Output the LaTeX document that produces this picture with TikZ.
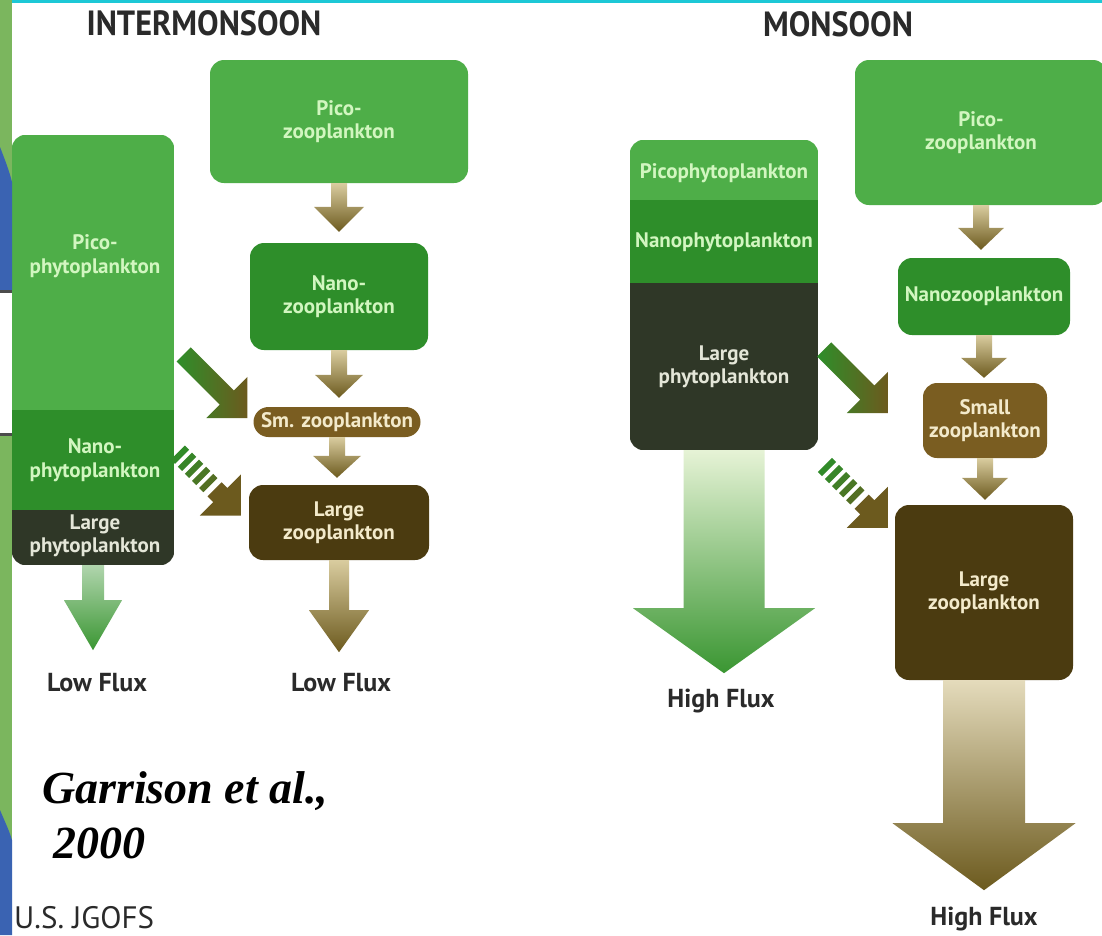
\documentclass[tikz,border=0pt]{standalone}
\usepackage{fontspec}
\setmainfont{PT Sans}
\newfontfamily\serifbi{Liberation Serif}
\usetikzlibrary{calc}
\definecolor{lgreen}{HTML}{4EAE48}
\definecolor{mgreen}{HTML}{2E8E2A}
\definecolor{dphy}{HTML}{2F3727}
\definecolor{sbrown}{HTML}{7A5D21}
\definecolor{dbrown}{HTML}{4B3B10}
\definecolor{txtg}{HTML}{D2F6C0}
\definecolor{txtd}{HTML}{E4E6D8}
\definecolor{txtb}{HTML}{F3EACB}
\definecolor{arrolive}{HTML}{6C5A1E}
\definecolor{arrtan}{HTML}{D9CC9F}
\definecolor{arrgreen}{HTML}{3A9632}
\definecolor{arrlight}{HTML}{E6F3D6}
\definecolor{stripgreen}{HTML}{7BB65E}
\definecolor{stripblue}{HTML}{3A63B2}
\definecolor{cyanline}{HTML}{1CC8D6}
\definecolor{inktxt}{HTML}{2A2A2A}

\newcommand\varrow[6]{%
  \path[#6] let \p1=(#1), \p2=(#2) in
    (\x1-#3pt,\y1) -- (\x1+#3pt,\y1) -- (\x1+#3pt,\y2+#5pt) -- (\x1+#4pt,\y2+#5pt)
    -- (\x1,\y2) -- (\x1-#4pt,\y2+#5pt) -- (\x1-#3pt,\y2+#5pt) -- cycle;}

\newcommand\diagsolid[1]{%
  \begin{scope}[shift={(#1)}, rotate=-45]
    \shade[left color=mgreen, right color=arrolive]
      (-90,-10) -- (-29,-10) -- (-29,-29) -- (0,0) -- (-29,29) -- (-29,10) -- (-90,10) -- cycle;
  \end{scope}}

\newcommand\diagdashed[1]{%
  \begin{scope}[shift={(#1)}, rotate=-45]
    \fill[arrolive] (-37,-10) -- (-29,-10) -- (-29,-29) -- (0,0) -- (-29,29) -- (-29,10) -- (-37,10) -- cycle;
    \foreach \a/\c in {-89/95,-79/85,-69/70,-59/55,-49/40}
      \fill[mgreen!\c!arrolive] (\a,-10) rectangle ++(6,20);
  \end{scope}}

\begin{document}
\begin{tikzpicture}[x=1pt,y=-1pt,
  lbl/.style={font=\bfseries\fontsize{21}{23.5}\selectfont, align=center, inner sep=0pt},
  box/.style={lbl, rounded corners=14pt},
  flux/.style={font=\bfseries\fontsize{26}{30}\selectfont, text=inktxt, anchor=base, inner sep=0pt},
  title/.style={font=\bfseries\fontsize{35}{40}\selectfont, text=inktxt, anchor=base, inner sep=0pt},
  zarrow/.style={top color=arrtan, bottom color=arrolive},
  garrow/.style={top color=arrlight, bottom color=arrgreen},
  barrow/.style={top color=arrtan!70!white, bottom color=arrolive}]
\useasboundingbox (0,0) rectangle (1102,935);
\fill[white] (0,0) rectangle (1102,935);

% titles
\node[title] (t1) at (204,35) {\scalebox{0.92}[1]{INTERMONSOON}};
\node[title] (t2) at (838,36) {\scalebox{0.92}[1]{MONSOON}};

% ---------- left panel ----------
\node[minimum width=162pt, minimum height=430pt, inner sep=0pt] (lphy) at (93,350) {};
\begin{scope}
  \clip[rounded corners=14pt] (lphy.north west) rectangle (lphy.south east);
  \fill[lgreen] (lphy.north west) rectangle (174,410);
  \fill[mgreen] (12,410) rectangle (174,510);
  \fill[dphy] (12,510) rectangle (lphy.south east);
\end{scope}
\node[lbl, text=txtg] (lpico) at (95,256) {Pico-\\phytoplankton};
\node[lbl, text=txtg] (lnano) at (95,460) {Nano-\\phytoplankton};
\node[lbl, text=txtd] (llarge) at (95,536) {Large\\phytoplankton};

\node[box, fill=lgreen, text=txtg, minimum width=258pt, minimum height=123pt] (lpz) at (339,121.5) {Pico-\\zooplankton};
\node[box, fill=mgreen, text=txtg, minimum width=178pt, minimum height=107pt] (lnz) at (339,296.5) {Nano-\\zooplankton};
\node[box, fill=sbrown, text=txtb, rounded corners=15pt, minimum width=167pt, minimum height=30pt] (lsz) at (337,422) {Sm. zooplankton};
\node[box, fill=dbrown, text=txtb, minimum width=180pt, minimum height=75pt] (llz) at (339,522.5) {Large\\zooplankton};

\varrow{lpz.south}{$(lnz.north)+(0,-11)$}{8}{25}{25}{zarrow}
\varrow{lnz.south}{$(lsz.north)+(0,-9)$}{8}{24}{23}{zarrow}
\varrow{lsz.south}{$(llz.north)+(0,-7)$}{8}{24}{22}{zarrow}
\varrow{llz.south}{$(llz.south)+(0,92)$}{10}{30}{42}{zarrow}
\varrow{lphy.south}{$(lphy.south)+(0,85)$}{11}{29}{50}{top color=arrgreen!40!white, bottom color=arrgreen}

\coordinate (ldt1) at ($(lsz.west)+(-6,-4)$);
\coordinate (ldt2) at ($(llz.west)+(-8,-7)$);
\diagsolid{ldt1}
\diagdashed{ldt2}

\node[flux] (lf1) at (97,691) {Low Flux};
\node[flux] (lf2) at (341,691) {Low Flux};

% ---------- right panel ----------
\node[minimum width=188pt, minimum height=310pt, inner sep=0pt] (rphy) at (724,295) {};
\begin{scope}
  \clip[rounded corners=14pt] (rphy.north west) rectangle (rphy.south east);
  \fill[lgreen] (rphy.north west) rectangle (818,200);
  \fill[mgreen] (630,200) rectangle (818,283);
  \fill[dphy] (630,283) rectangle (rphy.south east);
\end{scope}
\node[lbl, text=txtg] (rpico) at (724,173) {Picophytoplankton};
\node[lbl, text=txtg] (rnano) at (724,242) {Nanophytoplankton};
\node[lbl, text=txtd] (rlarge) at (724,367) {Large\\phytoplankton};

\node[box, fill=lgreen, text=txtg, minimum width=252pt, minimum height=145pt] (rpz) at (981,132.5) {Pico-\\zooplankton};
\node[box, fill=mgreen, text=txtg, minimum width=172pt, minimum height=77pt] (rnz) at (984,296.5) {Nanozooplankton};
\node[box, fill=sbrown, text=txtb, minimum width=124pt, minimum height=75pt] (rsz) at (985,420.5) {Small\\zooplankton};
\node[box, fill=dbrown, text=txtb, minimum width=178pt, minimum height=175pt] (rlz) at (984,592.5) {Large\\zooplankton};

\varrow{rpz.south}{$(rnz.north)+(0,-8)$}{8}{23}{22}{zarrow}
\varrow{rnz.south}{$(rsz.north)+(0,-5)$}{8}{23}{20}{zarrow}
\varrow{rsz.south}{$(rlz.north)+(0,-5)$}{8}{23}{22}{zarrow}
\varrow{rlz.south}{$(rlz.south)+(0,210)$}{41}{91.5}{67}{barrow}
\varrow{rphy.south}{$(rphy.south)+(0,223)$}{40.5}{91}{65}{garrow}

\coordinate (rdt1) at ($(rsz.west)+(-35,-7.5)$);
\coordinate (rdt2) at ($(rlz.north west)+(-7,23)$);
\diagsolid{rdt1}
\diagdashed{rdt2}

\node[flux] (hf1) at (721,707) {High Flux};
\node[flux] (hf2) at (984,925) {High Flux};

% ---------- citation ----------
\node[anchor=base west, inner sep=0pt, font=\serifbi\bfseries\itshape\fontsize{46}{55}\selectfont] (gar) at (42,803) {Garrison et al.,};
\node[anchor=base west, inner sep=0pt, font=\serifbi\bfseries\itshape\fontsize{46}{55}\selectfont] (yr) at (53,858) {2000};
\node[anchor=base west, inner sep=0pt, font=\fontsize{31}{32}\selectfont, text=inktxt] (jg) at (14,928) {U.S. JGOFS};

% ---------- left slide strip ----------
\fill[stripgreen] (0,0) rectangle (12,293);
\fill[stripblue] (0,147) .. controls (5,160) and (9,170) .. (12,182) -- (12,290) -- (0,290) -- cycle;
\fill[black!70] (0,290) rectangle (12,293);
\fill[white] (0,293) rectangle (12,434);
\fill[black!70] (0,433) rectangle (12,436);
\fill[stripgreen] (0,436) rectangle (12,935);
\fill[stripblue] (0,810) .. controls (5,822) and (9,830) .. (12,840) -- (12,935) -- (0,935) -- cycle;
\fill[cyanline] (12,0) rectangle (1102,2.5);
\end{tikzpicture}
\end{document}
